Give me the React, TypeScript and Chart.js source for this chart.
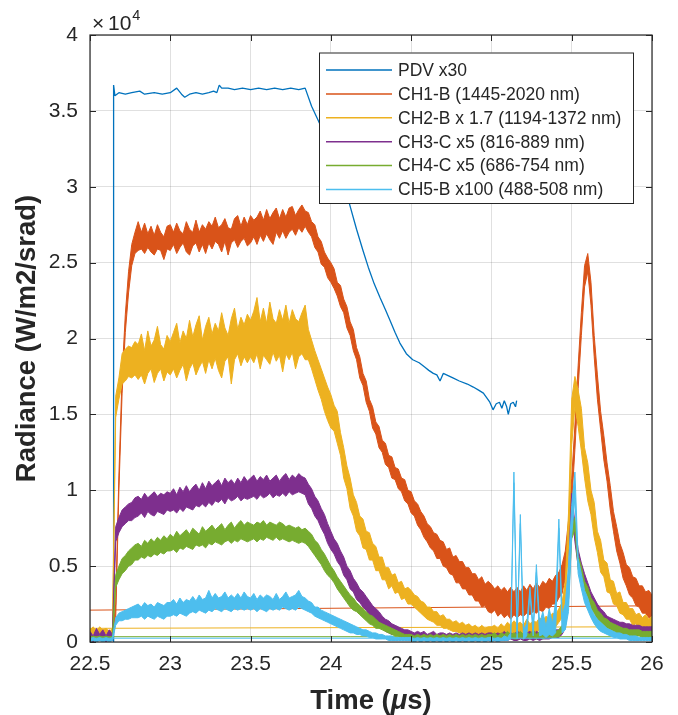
import React, { useEffect, useRef } from "react";
import { Chart, registerables } from "chart.js";

Chart.register(...registerables);

// ---------- data (values in units of 10^4 W/m2/srad) ----------
// Noisy channels are given as the upper and lower edge of their noise band.
const TIME = [
  22.50, 22.52, 22.54, 22.56, 22.58, 22.60, 22.62, 22.64, 22.66, 22.68, 22.70, 22.72, 22.74, 22.76, 22.78, 22.80, 22.82, 22.84, 22.86, 22.88, 22.90, 22.92, 22.94, 22.96, 22.98,
  23.00, 23.02, 23.04, 23.06, 23.08, 23.10, 23.12, 23.14, 23.16, 23.18, 23.20, 23.22, 23.24, 23.26, 23.28, 23.30, 23.32, 23.34, 23.36, 23.38, 23.40, 23.42, 23.44, 23.46, 23.48,
  23.50, 23.52, 23.54, 23.56, 23.58, 23.60, 23.62, 23.64, 23.66, 23.68, 23.70, 23.72, 23.74, 23.76, 23.78, 23.80, 23.82, 23.84, 23.86, 23.88, 23.90, 23.92, 23.94, 23.96, 23.98,
  24.00, 24.02, 24.04, 24.06, 24.08, 24.10, 24.12, 24.14, 24.16, 24.18, 24.20, 24.22, 24.24, 24.26, 24.28, 24.30, 24.32, 24.34, 24.36, 24.38, 24.40, 24.42, 24.44, 24.46, 24.48,
  24.50, 24.52, 24.54, 24.56, 24.58, 24.60, 24.62, 24.64, 24.66, 24.68, 24.70, 24.72, 24.74, 24.76, 24.78, 24.80, 24.82, 24.84, 24.86, 24.88, 24.90, 24.92, 24.94, 24.96, 24.98,
  25.00, 25.02, 25.04, 25.06, 25.08, 25.10, 25.12, 25.14, 25.16, 25.18, 25.20, 25.22, 25.24, 25.26, 25.28, 25.30, 25.32, 25.34, 25.36, 25.38, 25.40, 25.42, 25.44, 25.46, 25.48,
  25.50, 25.52, 25.54, 25.56, 25.58, 25.60, 25.62, 25.64, 25.66, 25.68, 25.70, 25.72, 25.74, 25.76, 25.78, 25.80, 25.82, 25.84, 25.86, 25.88, 25.90, 25.92, 25.94, 25.96, 25.98,
  26.00,
];

const CH1_UP = [
  0.06, 0.04, 0.08, 0.05, 0.07, 0.04, 0.08, 0.05, 0.25, 1.10, 1.76, 2.16, 2.44, 2.62, 2.70, 2.77, 2.70, 2.76, 2.69, 2.74, 2.68, 2.75, 2.70, 2.67, 2.74,
  2.75, 2.70, 2.76, 2.71, 2.69, 2.77, 2.72, 2.70, 2.78, 2.70, 2.75, 2.72, 2.77, 2.74, 2.80, 2.73, 2.75, 2.79, 2.73, 2.72, 2.79, 2.81, 2.74, 2.80, 2.75,
  2.81, 2.78, 2.80, 2.84, 2.78, 2.85, 2.79, 2.83, 2.86, 2.79, 2.85, 2.80, 2.86, 2.87, 2.81, 2.85, 2.88, 2.84, 2.83, 2.77, 2.75, 2.67, 2.64, 2.57, 2.53,
  2.50, 2.46, 2.37, 2.35, 2.26, 2.21, 2.11, 2.06, 1.94, 1.88, 1.77, 1.72, 1.60, 1.55, 1.45, 1.42, 1.33, 1.31, 1.23, 1.22, 1.15, 1.14, 1.08, 1.07, 1.00,
  0.99, 0.93, 0.91, 0.86, 0.83, 0.78, 0.76, 0.72, 0.71, 0.67, 0.66, 0.61, 0.62, 0.56, 0.57, 0.53, 0.53, 0.49, 0.49, 0.45, 0.45, 0.41, 0.43, 0.38, 0.40,
  0.38, 0.35, 0.37, 0.34, 0.36, 0.33, 0.36, 0.33, 0.36, 0.33, 0.37, 0.34, 0.38, 0.35, 0.39, 0.36, 0.40, 0.38, 0.42, 0.40, 0.44, 0.46, 0.51, 0.60, 0.80,
  1.08, 1.43, 1.82, 2.17, 2.48, 2.56, 2.37, 2.02, 1.76, 1.52, 1.36, 1.18, 1.03, 0.86, 0.76, 0.65, 0.59, 0.51, 0.49, 0.43, 0.42, 0.37, 0.37, 0.33, 0.34,
  0.31,
];
const CH1_LO = [
  0.01, 0.00, 0.02, 0.01, 0.02, 0.00, 0.02, 0.01, 0.15, 1.00, 1.64, 2.04, 2.30, 2.48, 2.56, 2.58, 2.59, 2.56, 2.60, 2.57, 2.55, 2.59, 2.58, 2.52, 2.59,
  2.58, 2.62, 2.56, 2.60, 2.63, 2.57, 2.55, 2.61, 2.63, 2.57, 2.62, 2.56, 2.63, 2.59, 2.64, 2.62, 2.57, 2.64, 2.55, 2.63, 2.65, 2.60, 2.64, 2.66, 2.61,
  2.63, 2.67, 2.62, 2.68, 2.64, 2.69, 2.65, 2.62, 2.70, 2.66, 2.71, 2.66, 2.70, 2.72, 2.68, 2.73, 2.70, 2.74, 2.70, 2.67, 2.60, 2.57, 2.49, 2.47, 2.40,
  2.37, 2.33, 2.28, 2.21, 2.17, 2.07, 2.02, 1.92, 1.86, 1.74, 1.69, 1.58, 1.52, 1.41, 1.37, 1.28, 1.25, 1.17, 1.15, 1.08, 1.07, 1.01, 0.99, 0.93, 0.91,
  0.85, 0.83, 0.77, 0.74, 0.69, 0.66, 0.62, 0.60, 0.55, 0.55, 0.50, 0.49, 0.45, 0.44, 0.39, 0.39, 0.35, 0.35, 0.31, 0.31, 0.27, 0.27, 0.23, 0.24, 0.20,
  0.19, 0.21, 0.17, 0.19, 0.16, 0.18, 0.15, 0.18, 0.16, 0.18, 0.17, 0.19, 0.18, 0.20, 0.19, 0.21, 0.20, 0.23, 0.22, 0.25, 0.25, 0.29, 0.32, 0.42, 0.62,
  0.92, 1.27, 1.67, 2.02, 2.34, 2.44, 2.22, 1.88, 1.60, 1.40, 1.20, 1.06, 0.87, 0.73, 0.60, 0.52, 0.42, 0.37, 0.31, 0.29, 0.24, 0.23, 0.19, 0.19, 0.16,
  0.17,
];

const CH2_UP = [
  0.08, 0.10, 0.07, 0.10, 0.08, 0.09, 0.07, 0.09, 1.62, 1.74, 1.90, 1.93, 1.95, 1.94, 1.98, 1.96, 2.03, 1.92, 2.05, 1.95, 1.99, 2.08, 1.96, 1.93, 2.02,
  1.98, 2.04, 2.10, 1.97, 2.05, 2.00, 2.12, 2.01, 2.09, 2.15, 1.99, 2.08, 2.14, 2.03, 2.10, 2.05, 2.17, 2.07, 2.02, 2.13, 2.20, 2.06, 2.14, 2.09, 2.16,
  2.12, 2.18, 2.27, 2.11, 2.20, 2.10, 2.24, 2.13, 2.10, 2.19, 2.12, 2.22, 2.10, 2.19, 2.13, 2.11, 2.17, 2.22, 2.06, 1.99, 1.92, 1.86, 1.80, 1.74, 1.68,
  1.63, 1.56, 1.52, 1.38, 1.28, 1.16, 1.08, 0.97, 0.92, 0.83, 0.81, 0.73, 0.72, 0.65, 0.63, 0.56, 0.56, 0.49, 0.49, 0.44, 0.45, 0.39, 0.40, 0.35, 0.36,
  0.34, 0.31, 0.30, 0.27, 0.26, 0.23, 0.23, 0.20, 0.20, 0.17, 0.18, 0.15, 0.15, 0.13, 0.14, 0.12, 0.13, 0.11, 0.12, 0.10, 0.11, 0.09, 0.11, 0.09, 0.10,
  0.10, 0.11, 0.09, 0.12, 0.10, 0.13, 0.11, 0.14, 0.12, 0.13, 0.11, 0.15, 0.12, 0.14, 0.13, 0.16, 0.14, 0.17, 0.15, 0.19, 0.18, 0.22, 0.26, 0.40, 0.85,
  1.60, 1.75, 1.66, 1.54, 1.28, 1.18, 1.00, 0.92, 0.73, 0.67, 0.54, 0.52, 0.41, 0.40, 0.32, 0.33, 0.26, 0.26, 0.22, 0.22, 0.18, 0.19, 0.16, 0.18, 0.15,
  0.17,
];
const CH2_LO = [
  0.04, 0.06, 0.03, 0.06, 0.04, 0.06, 0.03, 0.05, 1.48, 1.60, 1.70, 1.72, 1.75, 1.74, 1.76, 1.73, 1.76, 1.70, 1.77, 1.80, 1.71, 1.77, 1.80, 1.72, 1.78,
  1.76, 1.80, 1.74, 1.79, 1.83, 1.72, 1.80, 1.84, 1.76, 1.81, 1.85, 1.77, 1.86, 1.80, 1.87, 1.79, 1.74, 1.85, 1.88, 1.70, 1.86, 1.90, 1.82, 1.88, 1.84,
  1.88, 1.84, 1.90, 1.80, 1.89, 1.86, 1.83, 1.91, 1.85, 1.89, 1.78, 1.90, 1.86, 1.91, 1.80, 1.88, 1.90, 1.86, 1.86, 1.80, 1.73, 1.66, 1.60, 1.52, 1.46,
  1.41, 1.39, 1.31, 1.23, 1.08, 1.01, 0.88, 0.83, 0.73, 0.70, 0.62, 0.61, 0.54, 0.54, 0.47, 0.47, 0.41, 0.41, 0.35, 0.37, 0.32, 0.33, 0.28, 0.29, 0.25,
  0.25, 0.23, 0.21, 0.19, 0.17, 0.15, 0.14, 0.13, 0.11, 0.11, 0.09, 0.09, 0.08, 0.07, 0.07, 0.06, 0.06, 0.05, 0.05, 0.05, 0.04, 0.04, 0.04, 0.04, 0.04,
  0.04, 0.05, 0.04, 0.05, 0.04, 0.06, 0.05, 0.06, 0.05, 0.06, 0.05, 0.07, 0.06, 0.07, 0.06, 0.08, 0.07, 0.09, 0.08, 0.10, 0.10, 0.13, 0.16, 0.26, 0.62,
  1.30, 1.55, 1.42, 1.26, 1.08, 0.93, 0.84, 0.69, 0.59, 0.46, 0.43, 0.33, 0.32, 0.25, 0.24, 0.19, 0.18, 0.15, 0.15, 0.11, 0.12, 0.09, 0.10, 0.08, 0.09,
  0.09,
];

const CH3_UP = [
  0.07, 0.04, 0.09, 0.05, 0.08, 0.04, 0.08, 0.05, 0.76, 0.82, 0.87, 0.89, 0.91, 0.92, 0.95, 0.96, 0.94, 0.98, 0.95, 0.97, 0.99, 0.96, 0.98, 0.97, 0.99,
  0.98, 1.01, 0.97, 1.02, 0.99, 1.03, 0.99, 1.02, 1.04, 1.00, 1.05, 1.01, 1.06, 1.03, 1.05, 1.07, 1.03, 1.08, 1.05, 1.07, 1.04, 1.08, 1.05, 1.09, 1.06,
  1.08, 1.10, 1.06, 1.09, 1.07, 1.10, 1.06, 1.08, 1.10, 1.06, 1.09, 1.11, 1.07, 1.10, 1.08, 1.11, 1.09, 1.08, 1.04, 1.01, 0.96, 0.93, 0.88, 0.84, 0.78,
  0.73, 0.68, 0.65, 0.60, 0.56, 0.50, 0.47, 0.42, 0.39, 0.35, 0.33, 0.30, 0.27, 0.24, 0.22, 0.20, 0.17, 0.15, 0.14, 0.12, 0.11, 0.10, 0.09, 0.08, 0.08,
  0.07, 0.06, 0.07, 0.06, 0.07, 0.05, 0.06, 0.07, 0.05, 0.06, 0.06, 0.05, 0.06, 0.05, 0.06, 0.05, 0.06, 0.05, 0.06, 0.05, 0.06, 0.05, 0.06, 0.05, 0.06,
  0.06, 0.05, 0.06, 0.05, 0.07, 0.05, 0.06, 0.05, 0.07, 0.06, 0.05, 0.06, 0.07, 0.05, 0.07, 0.06, 0.06, 0.07, 0.06, 0.07, 0.08, 0.08, 0.10, 0.16, 0.45,
  0.98, 0.78, 0.61, 0.52, 0.45, 0.39, 0.33, 0.29, 0.25, 0.22, 0.20, 0.17, 0.16, 0.15, 0.14, 0.13, 0.13, 0.12, 0.12, 0.11, 0.11, 0.11, 0.10, 0.10, 0.10,
  0.10,
];
const CH3_LO = [
  0.02, 0.00, 0.03, 0.01, 0.02, 0.00, 0.03, 0.01, 0.66, 0.72, 0.76, 0.78, 0.80, 0.80, 0.82, 0.83, 0.85, 0.82, 0.86, 0.84, 0.83, 0.86, 0.85, 0.84, 0.87,
  0.86, 0.87, 0.85, 0.88, 0.86, 0.89, 0.88, 0.87, 0.90, 0.89, 0.91, 0.89, 0.92, 0.90, 0.93, 0.92, 0.94, 0.91, 0.95, 0.93, 0.94, 0.96, 0.93, 0.95, 0.94,
  0.95, 0.96, 0.94, 0.97, 0.95, 0.96, 0.98, 0.95, 0.97, 0.96, 0.98, 0.96, 0.99, 0.97, 0.98, 0.99, 0.98, 0.97, 0.91, 0.88, 0.83, 0.80, 0.75, 0.71, 0.65,
  0.61, 0.58, 0.53, 0.50, 0.44, 0.41, 0.35, 0.33, 0.28, 0.26, 0.23, 0.21, 0.17, 0.15, 0.12, 0.11, 0.09, 0.07, 0.06, 0.05, 0.05, 0.04, 0.03, 0.02, 0.02,
  0.02, 0.01, 0.02, 0.01, 0.02, 0.01, 0.01, 0.02, 0.01, 0.01, 0.02, 0.01, 0.01, 0.01, 0.02, 0.01, 0.01, 0.01, 0.02, 0.01, 0.01, 0.01, 0.02, 0.01, 0.01,
  0.01, 0.01, 0.02, 0.01, 0.01, 0.01, 0.02, 0.01, 0.01, 0.02, 0.01, 0.01, 0.02, 0.01, 0.02, 0.01, 0.02, 0.02, 0.02, 0.03, 0.03, 0.03, 0.05, 0.09, 0.28,
  0.88, 0.66, 0.50, 0.42, 0.35, 0.30, 0.25, 0.21, 0.18, 0.15, 0.13, 0.11, 0.10, 0.09, 0.08, 0.07, 0.07, 0.06, 0.06, 0.05, 0.05, 0.05, 0.04, 0.04, 0.04,
  0.04,
];

const CH4_UP = [
  0.03, 0.04, 0.03, 0.04, 0.03, 0.04, 0.03, 0.04, 0.44, 0.50, 0.55, 0.57, 0.60, 0.62, 0.64, 0.65, 0.63, 0.67, 0.65, 0.68, 0.66, 0.69, 0.67, 0.70, 0.68,
  0.71, 0.69, 0.73, 0.70, 0.72, 0.74, 0.71, 0.75, 0.73, 0.71, 0.76, 0.73, 0.75, 0.77, 0.74, 0.76, 0.78, 0.74, 0.77, 0.79, 0.75, 0.78, 0.80, 0.77, 0.79,
  0.78, 0.77, 0.79, 0.78, 0.80, 0.77, 0.79, 0.78, 0.77, 0.79, 0.78, 0.76, 0.77, 0.76, 0.75, 0.76, 0.74, 0.75, 0.73, 0.71, 0.67, 0.65, 0.61, 0.58, 0.54,
  0.50, 0.47, 0.43, 0.40, 0.37, 0.34, 0.31, 0.29, 0.26, 0.24, 0.22, 0.20, 0.18, 0.17, 0.15, 0.13, 0.12, 0.11, 0.10, 0.09, 0.08, 0.07, 0.06, 0.05, 0.05,
  0.05, 0.04, 0.05, 0.04, 0.05, 0.04, 0.05, 0.04, 0.05, 0.04, 0.05, 0.04, 0.05, 0.04, 0.05, 0.04, 0.05, 0.04, 0.05, 0.04, 0.05, 0.04, 0.05, 0.04, 0.05,
  0.05, 0.06, 0.04, 0.06, 0.05, 0.07, 0.05, 0.06, 0.05, 0.07, 0.05, 0.06, 0.05, 0.08, 0.05, 0.07, 0.06, 0.08, 0.06, 0.07, 0.07, 0.08, 0.11, 0.18, 0.42,
  0.76, 0.82, 0.57, 0.50, 0.40, 0.36, 0.29, 0.26, 0.21, 0.19, 0.16, 0.15, 0.13, 0.12, 0.11, 0.10, 0.09, 0.09, 0.08, 0.08, 0.08, 0.08, 0.07, 0.07, 0.07,
  0.07,
];
const CH4_LO = [
  0.01, 0.02, 0.01, 0.02, 0.01, 0.02, 0.01, 0.02, 0.36, 0.41, 0.45, 0.47, 0.50, 0.51, 0.54, 0.54, 0.56, 0.55, 0.57, 0.56, 0.58, 0.57, 0.59, 0.58, 0.60,
  0.60, 0.61, 0.59, 0.62, 0.61, 0.63, 0.62, 0.61, 0.64, 0.63, 0.64, 0.62, 0.65, 0.64, 0.66, 0.65, 0.64, 0.66, 0.67, 0.65, 0.67, 0.66, 0.68, 0.67, 0.66,
  0.67, 0.68, 0.66, 0.68, 0.67, 0.69, 0.68, 0.67, 0.69, 0.67, 0.68, 0.67, 0.66, 0.67, 0.66, 0.65, 0.66, 0.65, 0.63, 0.60, 0.57, 0.54, 0.51, 0.47, 0.44,
  0.42, 0.39, 0.35, 0.32, 0.29, 0.26, 0.23, 0.21, 0.20, 0.18, 0.16, 0.14, 0.12, 0.11, 0.09, 0.09, 0.08, 0.07, 0.06, 0.05, 0.04, 0.04, 0.03, 0.03, 0.03,
  0.02, 0.02, 0.03, 0.02, 0.02, 0.02, 0.03, 0.02, 0.02, 0.02, 0.03, 0.02, 0.02, 0.02, 0.03, 0.02, 0.02, 0.02, 0.03, 0.02, 0.02, 0.02, 0.03, 0.02, 0.02,
  0.02, 0.02, 0.02, 0.03, 0.02, 0.02, 0.03, 0.02, 0.02, 0.03, 0.02, 0.03, 0.02, 0.03, 0.02, 0.03, 0.02, 0.03, 0.03, 0.03, 0.03, 0.04, 0.06, 0.10, 0.28,
  0.68, 0.74, 0.48, 0.42, 0.32, 0.28, 0.22, 0.19, 0.15, 0.13, 0.11, 0.09, 0.08, 0.07, 0.06, 0.06, 0.05, 0.05, 0.04, 0.04, 0.04, 0.04, 0.03, 0.03, 0.03,
  0.03,
];

const CH5_UP = [
  0.02, 0.03, 0.02, 0.03, 0.02, 0.03, 0.02, 0.03, 0.16, 0.19, 0.20, 0.21, 0.22, 0.23, 0.24, 0.25, 0.23, 0.26, 0.24, 0.25, 0.23, 0.26, 0.25, 0.24, 0.26,
  0.26, 0.28, 0.25, 0.29, 0.26, 0.28, 0.27, 0.30, 0.27, 0.31, 0.28, 0.29, 0.34, 0.29, 0.32, 0.29, 0.30, 0.33, 0.29, 0.31, 0.29, 0.32, 0.29, 0.33, 0.30,
  0.29, 0.32, 0.28, 0.31, 0.29, 0.31, 0.30, 0.28, 0.32, 0.28, 0.30, 0.33, 0.29, 0.30, 0.31, 0.34, 0.30, 0.29, 0.27, 0.26, 0.23, 0.23, 0.21, 0.20, 0.19,
  0.18, 0.17, 0.16, 0.15, 0.14, 0.13, 0.12, 0.11, 0.10, 0.09, 0.08, 0.08, 0.07, 0.06, 0.06, 0.05, 0.05, 0.04, 0.04, 0.04, 0.03, 0.03, 0.03, 0.03, 0.03,
  0.03, 0.02, 0.03, 0.02, 0.03, 0.02, 0.03, 0.02, 0.03, 0.02, 0.03, 0.02, 0.03, 0.02, 0.03, 0.02, 0.03, 0.02, 0.03, 0.02, 0.03, 0.02, 0.03, 0.02, 0.03,
  0.03, 0.02, 0.03, 0.02, 0.04, 0.03, 0.06, 1.12, 0.06, 0.84, 0.08, 0.12, 0.36, 0.10, 0.51, 0.12, 0.20, 0.10, 0.22, 0.12, 0.27, 0.81, 0.18, 0.25, 0.50,
  0.90, 1.12, 0.55, 0.45, 0.34, 0.29, 0.22, 0.18, 0.15, 0.13, 0.11, 0.09, 0.08, 0.07, 0.06, 0.06, 0.05, 0.05, 0.04, 0.04, 0.04, 0.03, 0.03, 0.03, 0.03,
  0.03,
];
const CH5_LO = [
  0.00, 0.01, 0.00, 0.01, 0.00, 0.01, 0.00, 0.01, 0.11, 0.14, 0.14, 0.15, 0.15, 0.16, 0.16, 0.16, 0.17, 0.15, 0.17, 0.16, 0.15, 0.17, 0.16, 0.15, 0.17,
  0.17, 0.18, 0.17, 0.19, 0.18, 0.17, 0.19, 0.20, 0.19, 0.21, 0.20, 0.19, 0.21, 0.20, 0.22, 0.21, 0.20, 0.22, 0.21, 0.20, 0.22, 0.21, 0.22, 0.21, 0.22,
  0.21, 0.22, 0.20, 0.22, 0.21, 0.20, 0.22, 0.21, 0.22, 0.21, 0.23, 0.22, 0.21, 0.22, 0.21, 0.23, 0.22, 0.21, 0.20, 0.19, 0.17, 0.16, 0.15, 0.14, 0.13,
  0.12, 0.11, 0.10, 0.09, 0.08, 0.07, 0.06, 0.06, 0.05, 0.05, 0.04, 0.04, 0.03, 0.03, 0.02, 0.02, 0.02, 0.02, 0.01, 0.01, 0.01, 0.01, 0.01, 0.01, 0.01,
  0.01, 0.00, 0.01, 0.00, 0.01, 0.00, 0.01, 0.00, 0.01, 0.00, 0.01, 0.00, 0.01, 0.00, 0.01, 0.00, 0.01, 0.00, 0.01, 0.00, 0.01, 0.00, 0.01, 0.00, 0.01,
  0.00, 0.01, 0.00, 0.01, 0.01, 0.01, 0.02, 1.05, 0.02, 0.78, 0.02, 0.04, 0.32, 0.04, 0.46, 0.04, 0.05, 0.03, 0.05, 0.04, 0.06, 0.75, 0.06, 0.08, 0.20,
  0.70, 0.95, 0.45, 0.35, 0.26, 0.21, 0.16, 0.12, 0.09, 0.07, 0.06, 0.05, 0.04, 0.03, 0.03, 0.02, 0.02, 0.02, 0.01, 0.01, 0.01, 0.01, 0.01, 0.01, 0.01,
  0.01,
];

const PDV_TIME = [
  22.645, 22.647, 22.655, 22.68, 22.72, 22.76, 22.81, 22.84, 22.90, 22.95, 23.00, 23.04, 23.07, 23.09, 23.12, 23.16, 23.20, 23.24, 23.27, 23.29,
  23.305, 23.32, 23.36, 23.40, 23.45, 23.50, 23.55, 23.60, 23.65, 23.70, 23.75, 23.80, 23.84, 23.88, 23.92, 23.98, 24.04, 24.08, 24.115, 24.16,
  24.20, 24.233, 24.27, 24.306, 24.34, 24.368, 24.40, 24.43, 24.47, 24.51, 24.55, 24.586, 24.61, 24.638, 24.66, 24.68, 24.70, 24.72, 24.76, 24.80,
  24.85, 24.887, 24.92, 24.95, 24.97, 24.99, 25.01, 25.03, 25.05, 25.065, 25.08, 25.095, 25.105, 25.12, 25.136, 25.15, 25.157,
];
const PDV = [
  0.00, 3.67, 3.60, 3.62, 3.61, 3.62, 3.63, 3.61, 3.62, 3.61, 3.62, 3.65, 3.61, 3.59, 3.61, 3.62, 3.61, 3.62, 3.63, 3.62,
  3.67, 3.65, 3.65, 3.64, 3.65, 3.64, 3.65, 3.64, 3.65, 3.64, 3.65, 3.64, 3.65, 3.53, 3.44, 3.30, 3.12, 3.00, 2.89, 2.72,
  2.58, 2.47, 2.36, 2.27, 2.19, 2.12, 2.04, 1.97, 1.90, 1.86, 1.84, 1.81, 1.79, 1.77, 1.76, 1.72, 1.77, 1.76, 1.74, 1.72,
  1.70, 1.68, 1.66, 1.64, 1.61, 1.58, 1.53, 1.57, 1.58, 1.54, 1.59, 1.55, 1.50, 1.57, 1.58, 1.55, 1.59,
];

// thin straight connecting lines that appear near the bottom
const CH1_LINE_T = [22.5, 25.93];
const CH1_LINE_V = [0.21, 0.238];
const CH2_LINE_T = [22.5, 25.85];
const CH2_LINE_V = [0.09, 0.10];
const CH4_LINE_T = [22.5, 25.75];
const CH4_LINE_V = [0.035, 0.035];
const CH5_LINE_T = [22.5, 25.8];
const CH5_LINE_V = [0.025, 0.025];

const LABELS = [
  "PDV x30",
  "CH1-B (1445-2020 nm)",
  "CH2-B x 1.7 (1194-1372 nm)",
  "CH3-C x5 (816-889 nm)",
  "CH4-C x5 (686-754 nm)",
  "CH5-B x100 (488-508 nm)",
];
const COLORS = ["#0072BD", "#D95319", "#EDB120", "#7E2F8E", "#77AC30", "#4DBEEE"];

const X_TICKS = [22.5, 23, 23.5, 24, 24.5, 25, 25.5, 26];
const Y_TICKS = [0, 0.5, 1, 1.5, 2, 2.5, 3, 3.5, 4];
const Y_EXP = "4";
const X_TITLE = ["Time (", "\u03bc", "s)"];
const Y_TITLE = "Radiance (W/m2/srad)";

// ---------- styling ----------
const FONT = '"Liberation Sans", Arial, Helvetica, sans-serif';
const INK = "#262626";

const pts = (t: number[], v: number[]) => t.map((x, i) => ({ x, y: v[i] }));

const framePlugin = {
  id: "matlabFrame",
  afterDatasetsDraw(chart: any) {
    const { ctx, chartArea: a, scales } = chart;
    ctx.save();
    ctx.strokeStyle = INK;
    ctx.lineWidth = 1.2;
    ctx.strokeRect(a.left, a.top, a.right - a.left, a.bottom - a.top);
    const tl = 6;
    ctx.lineWidth = 1;
    ctx.beginPath();
    for (const v of X_TICKS) {
      const x = Math.round(scales.x.getPixelForValue(v)) + 0.5;
      ctx.moveTo(x, a.bottom);
      ctx.lineTo(x, a.bottom - tl);
      ctx.moveTo(x, a.top);
      ctx.lineTo(x, a.top + tl);
    }
    for (const v of Y_TICKS) {
      const y = Math.round(scales.y.getPixelForValue(v)) + 0.5;
      ctx.moveTo(a.left, y);
      ctx.lineTo(a.left + tl, y);
      ctx.moveTo(a.right, y);
      ctx.lineTo(a.right - tl, y);
    }
    ctx.stroke();

    // exponent label  (x10^4)
    ctx.fillStyle = INK;
    ctx.textBaseline = "alphabetic";
    ctx.textAlign = "left";
    ctx.font = `21px ${FONT}`;
    ctx.fillText("\u00d7", a.left + 2, a.top - 5);
    ctx.fillText("10", a.left + 18, a.top - 5);
    const w10 = ctx.measureText("10").width;
    ctx.font = `14.5px ${FONT}`;
    ctx.fillText(Y_EXP, a.left + 18 + w10 + 1, a.top - 15);

    // x title with italic mu
    const fonts = [`bold 27.5px ${FONT}`, `italic bold 27.5px ${FONT}`, `bold 27.5px ${FONT}`];
    let total = 0;
    const widths = X_TITLE.map((s, i) => {
      ctx.font = fonts[i];
      const w = ctx.measureText(s).width;
      total += w;
      return w;
    });
    let xx = (a.left + a.right) / 2 - total / 2;
    X_TITLE.forEach((s, i) => {
      ctx.font = fonts[i];
      ctx.fillText(s, xx, 709);
      xx += widths[i];
    });

    // legend
    const lx = a.right - 333;
    const ly = a.top + 17.5;
    const lw = 314;
    const lh = 150.5;
    ctx.fillStyle = "#ffffff";
    ctx.fillRect(lx, ly, lw, lh);
    ctx.strokeStyle = INK;
    ctx.lineWidth = 1;
    ctx.strokeRect(lx + 0.5, ly + 0.5, lw, lh);
    ctx.font = `17.5px ${FONT}`;
    ctx.textBaseline = "middle";
    LABELS.forEach((lab, i) => {
      const y = ly + 17.5 + i * 23.9;
      ctx.strokeStyle = COLORS[i];
      ctx.lineWidth = 1.5;
      ctx.beginPath();
      ctx.moveTo(lx + 7, y);
      ctx.lineTo(lx + 73, y);
      ctx.stroke();
      ctx.fillStyle = INK;
      ctx.fillText(lab, lx + 79, y + 1);
    });
    ctx.restore();
  },
};

export default function App() {
  const ref = useRef<HTMLCanvasElement | null>(null);

  useEffect(() => {
    if (!ref.current) return;
    const bands: [number[], number[]][] = [
      [CH1_UP, CH1_LO],
      [CH2_UP, CH2_LO],
      [CH3_UP, CH3_LO],
      [CH4_UP, CH4_LO],
      [CH5_UP, CH5_LO],
    ];
    const datasets: any[] = [
      {
        label: LABELS[0],
        data: pts(PDV_TIME, PDV),
        borderColor: COLORS[0],
        borderWidth: 1.3,
        fill: false,
        order: 60,
      },
    ];
    bands.forEach(([up, lo], i) => {
      const o = 50 - i * 10;
      datasets.push({
        label: LABELS[i + 1],
        data: pts(TIME, up),
        borderColor: COLORS[i + 1],
        backgroundColor: COLORS[i + 1],
        borderWidth: 1,
        fill: "+1",
        order: o + 0.2,
      });
      datasets.push({
        label: LABELS[i + 1] + " (lower)",
        data: pts(TIME, lo),
        borderColor: COLORS[i + 1],
        borderWidth: 1,
        fill: false,
        order: o + 0.1,
      });
    });
    const thin: [number[], number[], number, number][] = [
      [CH1_LINE_T, CH1_LINE_V, 1, 49],
      [CH2_LINE_T, CH2_LINE_V, 2, 39],
      [CH4_LINE_T, CH4_LINE_V, 4, 19],
      [CH5_LINE_T, CH5_LINE_V, 5, 9],
    ];
    thin.forEach(([t, v, c, o]) => {
      datasets.push({
        label: LABELS[c] + " baseline",
        data: pts(t, v),
        borderColor: COLORS[c],
        borderWidth: 1,
        fill: false,
        order: o,
      });
    });

    const chart = new Chart(ref.current, {
      type: "line",
      data: { datasets },
      options: {
        responsive: false,
        animation: false,
        events: [],
        layout: { padding: { left: 0, top: 35, right: 26, bottom: 0 } },
        elements: {
          point: { radius: 0 },
          line: { tension: 0, borderJoinStyle: "bevel" },
        },
        plugins: {
          legend: { display: false },
          tooltip: { enabled: false },
          filler: { propagate: false, drawTime: "beforeDatasetDraw" },
        },
        scales: {
          x: {
            type: "linear",
            min: 22.5,
            max: 26,
            afterFit: (s: any) => {
              s.height = 73;
            },
            afterBuildTicks: (s: any) => {
              s.ticks = X_TICKS.map((value) => ({ value }));
            },
            ticks: {
              color: INK,
              font: { family: FONT, size: 21 },
              padding: 10,
              maxRotation: 0,
              autoSkip: false,
              callback: (v: any) => String(v),
            },
            grid: { color: "rgba(38,38,38,0.14)", lineWidth: 1, drawTicks: false },
            border: { display: false },
          },
          y: {
            type: "linear",
            min: 0,
            max: 4,
            afterFit: (s: any) => {
              s.width = 90;
            },
            afterBuildTicks: (s: any) => {
              s.ticks = Y_TICKS.map((value) => ({ value }));
            },
            ticks: {
              color: INK,
              font: { family: FONT, size: 21 },
              padding: 12,
              autoSkip: false,
              callback: (v: any) => String(v),
            },
            grid: { color: "rgba(38,38,38,0.14)", lineWidth: 1, drawTicks: false },
            border: { display: false },
            title: {
              display: true,
              text: Y_TITLE,
              color: INK,
              font: { family: FONT, size: 27.5, weight: "bold" },
              padding: { top: 11, bottom: 0 },
            },
          },
        },
      } as any,
      plugins: [framePlugin],
    });
    return () => chart.destroy();
  }, []);

  return (
    <div style={{ position: "fixed", left: 0, top: 0, width: 678, height: 715, background: "#fff" }}>
      <canvas ref={ref} width={678} height={715} />
    </div>
  );
}
